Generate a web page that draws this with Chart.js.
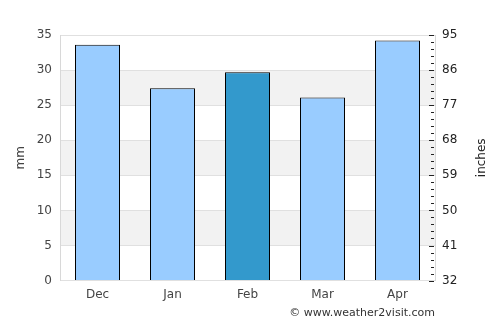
<!DOCTYPE html>
<html>
<head>
<meta charset="utf-8">
<script src="https://cdn.jsdelivr.net/npm/chart.js@4"></script>
<style>
  body { margin: 0; background: #fff; }
  #wrap { width: 500px; height: 325px; }
</style>
</head>
<body>
<div id="wrap"><canvas id="rain"></canvas></div>
<script>
const months = ["Dec", "Jan", "Feb", "Mar", "Apr"];
const rainfall = [33.6, 27.4, 29.7, 26.1, 34.2];
const barColors = ["#99ccff", "#99ccff", "#3399cc", "#99ccff", "#99ccff"];
const rightTicks = [32, 41, 50, 59, 68, 77, 86, 95];
const stripes = [[5, 10], [15, 20], [25, 30]];

// grey bands behind the bars
const stripePlugin = {
  id: "stripes",
  beforeDraw(chart) {
    const ctx = chart.ctx;
    const area = chart.chartArea;
    const y = chart.scales.y;
    ctx.save();
    ctx.fillStyle = "#f2f2f2";
    stripes.forEach(([from, to]) => {
      const top = y.getPixelForValue(to);
      const bottom = y.getPixelForValue(from);
      ctx.fillRect(area.left, top, area.right - area.left, bottom - top);
    });
    ctx.restore();
  },
};

// small ticks on the inside of the right axis, right title, credit line
const extrasPlugin = {
  id: "extras",
  afterDraw(chart) {
    const ctx = chart.ctx;
    const area = chart.chartArea;
    const y2 = chart.scales.y2;
    ctx.save();
    ctx.strokeStyle = "#222";
    ctx.lineWidth = 1;
    for (let i = 0; i <= 35; i++) {
      const v = 32 + i * 1.8;
      const py = Math.round(y2.getPixelForValue(v)) + 0.5;
      const len = i % 5 === 0 ? 5 : 3;
      ctx.beginPath();
      ctx.moveTo(area.right - 1 - len, py);
      ctx.lineTo(area.right - 1, py);
      ctx.stroke();
    }

    ctx.fillStyle = "#222";
    ctx.font = "12px 'DejaVu Sans'";
    ctx.textAlign = "center";
    ctx.textBaseline = "middle";
    ctx.translate(482, (area.top + area.bottom) / 2);
    ctx.rotate(-Math.PI / 2);
    ctx.fillText("inches", 0, 0);
    ctx.restore();

    ctx.save();
    ctx.fillStyle = "#333";
    ctx.font = "11px 'DejaVu Sans'";
    ctx.textAlign = "right";
    ctx.textBaseline = "middle";
    ctx.fillText("© www.weather2visit.com", area.right, 313);
    ctx.restore();
  },
};

new Chart(document.getElementById("rain"), {
  type: "bar",
  data: {
    labels: months,
    datasets: [
      {
        data: rainfall,
        backgroundColor: barColors,
        borderColor: "#000",
        borderWidth: 1,
        barPercentage: 0.6,
        categoryPercentage: 1,
      },
    ],
  },
  options: {
    responsive: true,
    maintainAspectRatio: false,
    animation: false,
    layout: { padding: { top: 35, left: 14, right: 6, bottom: 16 } },
    plugins: {
      legend: { display: false },
      tooltip: { enabled: false },
    },
    scales: {
      x: {
        grid: { display: false, drawTicks: false },
        border: { display: false },
        ticks: {
          color: "#444",
          font: { family: "DejaVu Sans", size: 12 },
          padding: 7,
        },
      },
      y: {
        position: "left",
        min: 0,
        max: 35,
        afterFit: (scale) => { scale.width = 46; },
        ticks: {
          stepSize: 5,
          color: "#444",
          font: { family: "DejaVu Sans", size: 12 },
          padding: 8,
        },
        grid: { color: "#e0e0e0", drawTicks: false },
        border: { display: true, color: "#d8d8d8" },
        title: {
          display: true,
          text: "mm",
          color: "#444",
          font: { family: "DejaVu Sans", size: 12 },
          padding: { top: 0, bottom: 0 },
        },
      },
      y2: {
        position: "right",
        min: 32,
        max: 95,
        afterFit: (scale) => { scale.width = 59; },
        afterBuildTicks: (scale) => {
          scale.ticks = rightTicks.map((v) => ({ value: v }));
        },
        ticks: {
          color: "#222",
          font: { family: "DejaVu Sans", size: 12 },
          padding: 7,
        },
        grid: { display: false, drawTicks: false },
        border: { display: true, color: "#d8d8d8" },
      },
    },
  },
  plugins: [stripePlugin, extrasPlugin],
});
</script>
</body>
</html>
